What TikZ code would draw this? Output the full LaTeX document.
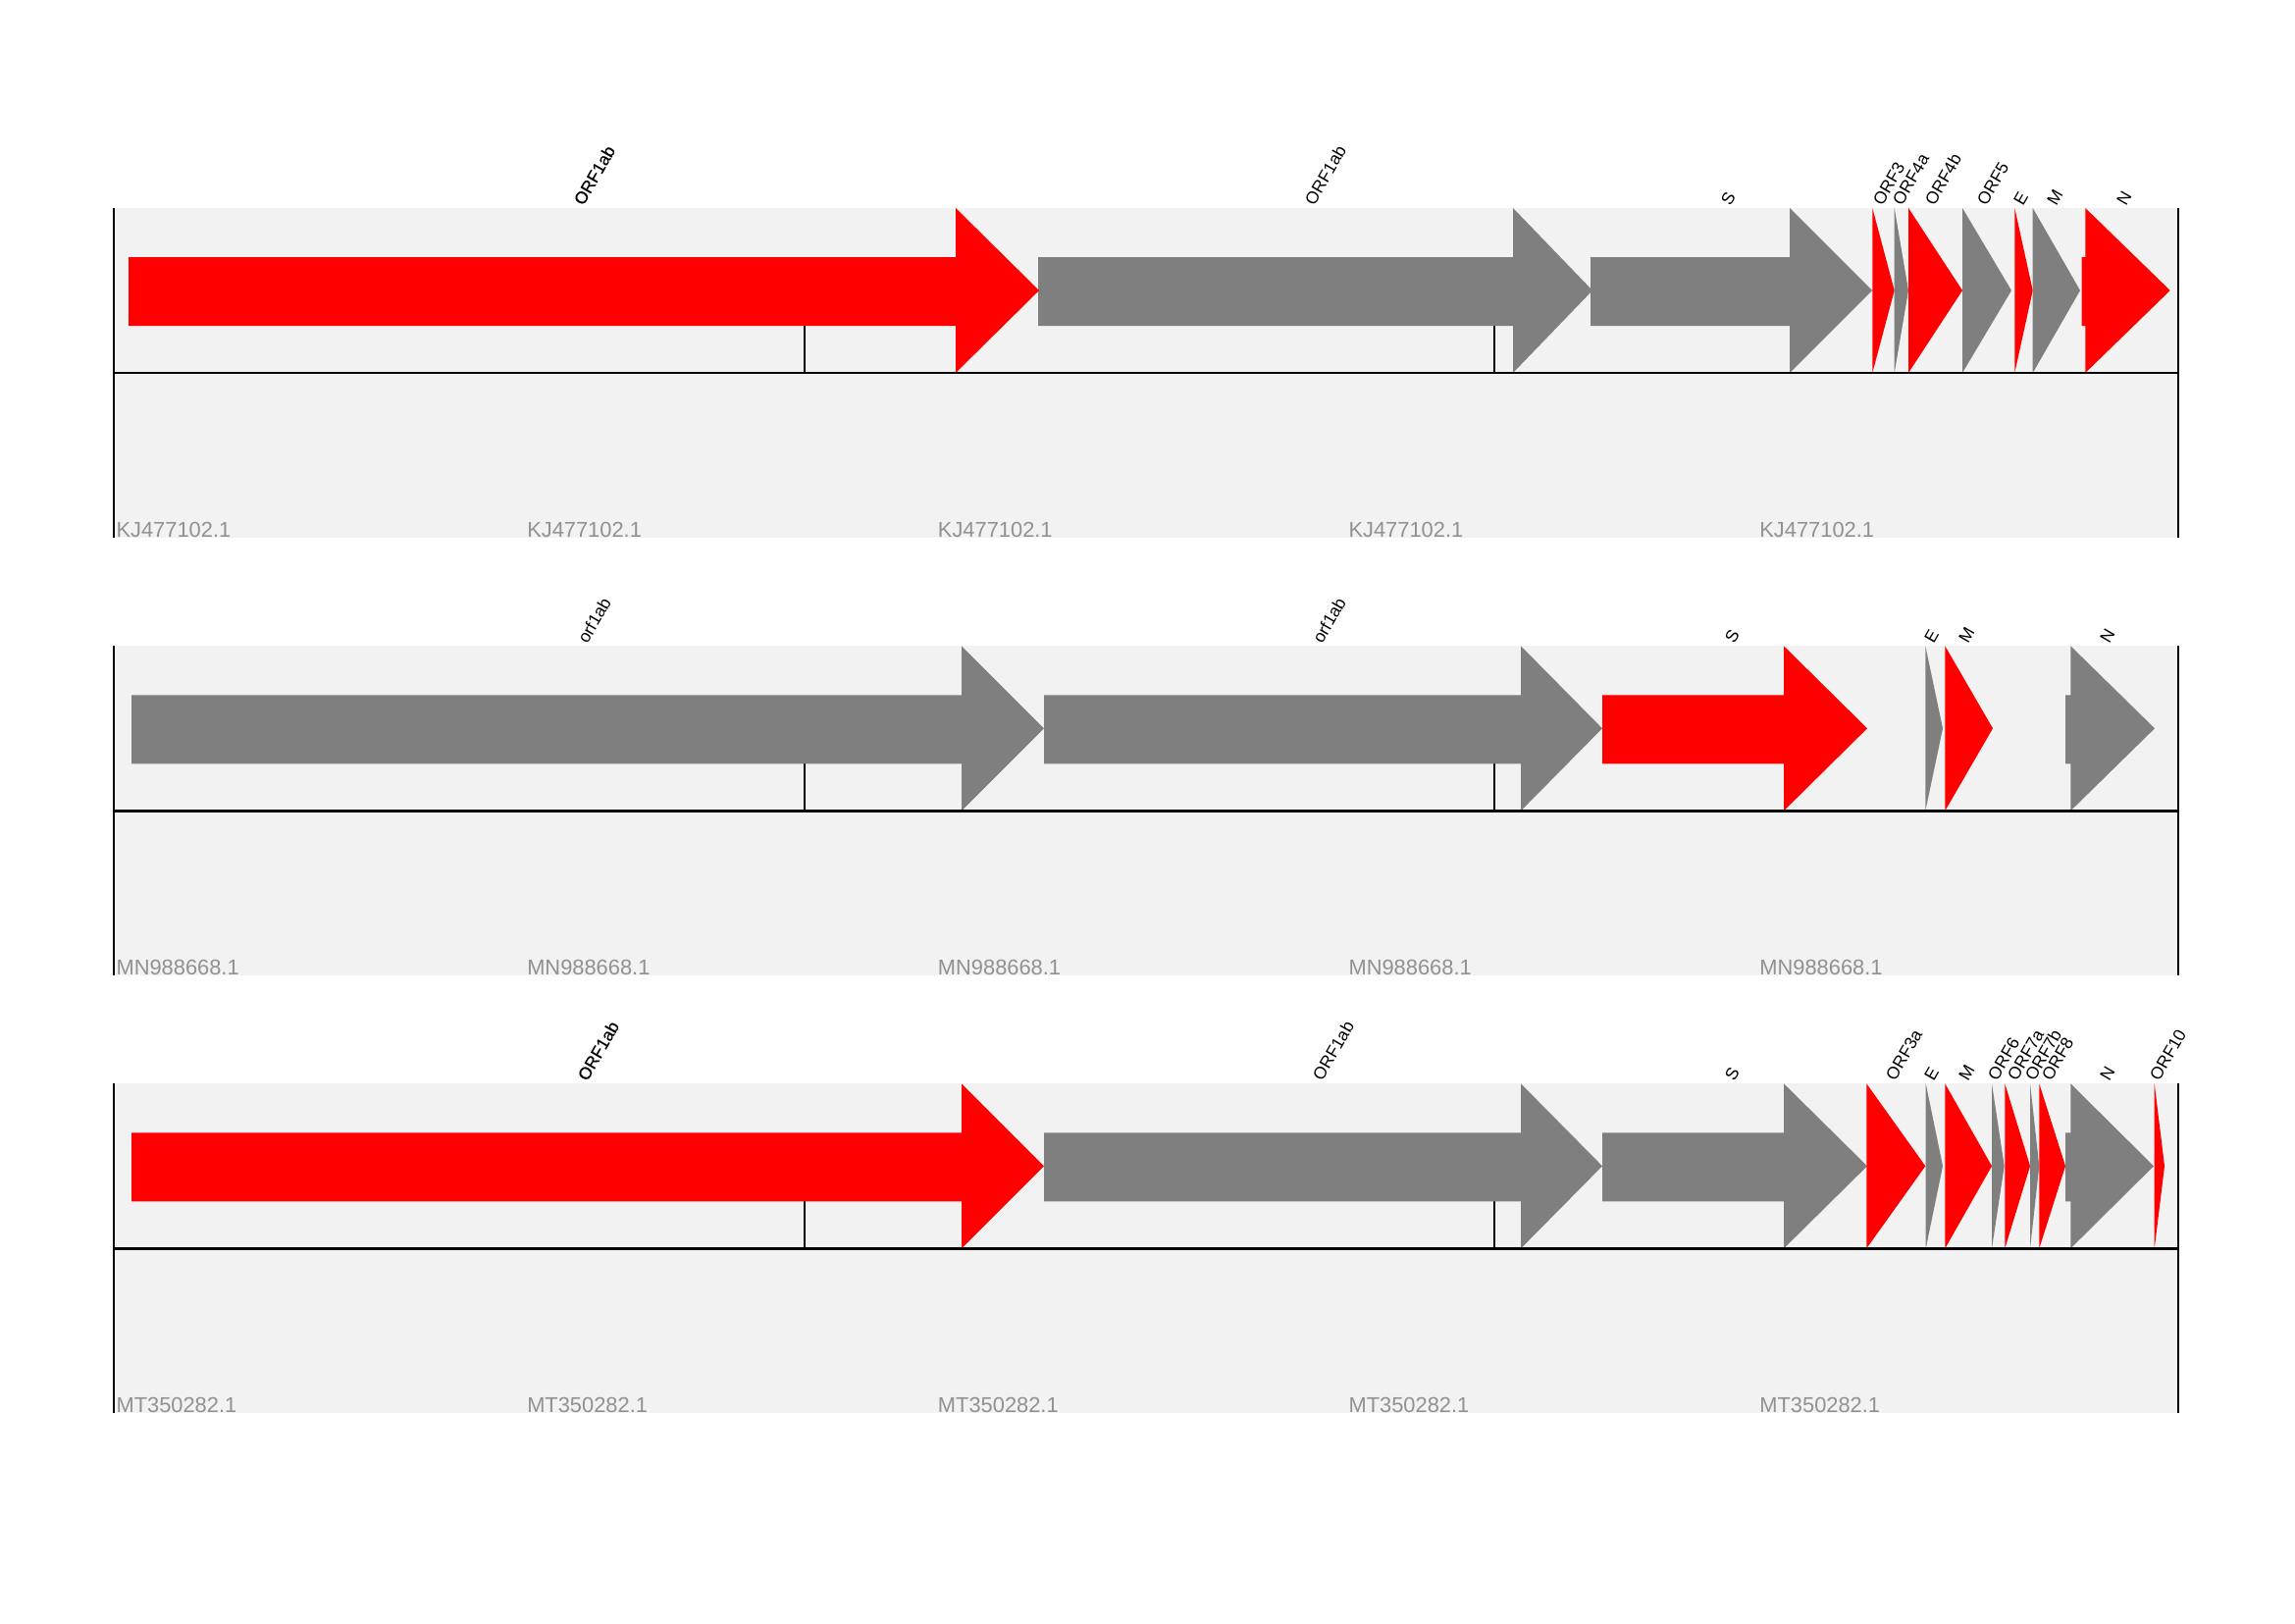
\documentclass[tikz,border=0pt]{standalone}
\usepackage{fontspec}
\newfontfamily\lsans{Liberation Sans}
\newfontfamily\lsansbold[FakeBold=0.4]{Liberation Sans}
\definecolor{bgcol}{HTML}{F2F2F2}
\definecolor{gred}{HTML}{FF0000}
\definecolor{ggray}{HTML}{7F7F7F}
\definecolor{seqcol}{RGB}{145,145,145}
\newcommand\genearr[4]{\fill[#1] (#2,50) -- (#3,50) -- (#3,0) -- (#4,84) -- (#3,168) -- (#3,120) -- (#2,120) -- cycle;}
\newcommand\genetri[3]{\fill[#1] (#2,0) -- (#3,84) -- (#2,168) -- cycle;}
\newcommand\trackbase{%
  \fill[bgcol] (116,0) rectangle (2220,336);
  \draw[axisline] (820,120) -- (820,168);
  \draw[axisline] (1523,120) -- (1523,168);
}
\newcommand\trackframe{%
  \draw[axisline] (116,168) -- (2220,168);
  \draw[axisline] (116,0) -- (116,336);
  \draw[axisline] (2220,0) -- (2220,336);
}
\begin{document}
\begin{tikzpicture}[x=0.127mm,y=-0.127mm,
  axisline/.style={draw=black,line width=1.05pt},
  redgene/.style={fill=gred},
  graygene/.style={fill=ggray},
  glabel/.style={anchor=south west,rotate=60,inner sep=0pt,font=\lsans\fontsize{6.3}{7}\selectfont},
  glabelb/.style={glabel,font=\lsansbold\fontsize{6.3}{7}\selectfont},
  seqlabel/.style={anchor=base west,inner sep=0pt,text=seqcol,font=\lsans\fontsize{7.9}{9}\selectfont}]
\useasboundingbox[fill=white] (0,0) rectangle (2339,1654);

% ---------------- Track 1: KJ477102.1 ----------------
\begin{scope}[shift={(0,212)}]
\trackbase
\genearr{graygene}{1058}{1542}{1623}
\genearr{redgene}{131}{974}{1059}
\genearr{graygene}{1621}{1824}{1908}
\genetri{redgene}{1908.3}{1930.7}
\genetri{graygene}{1930.7}{1945}
\genetri{redgene}{1945}{2000}
\genetri{graygene}{2000}{2050}
\genetri{redgene}{2053.3}{2071.7}
\genetri{graygene}{2071.7}{2120}
\genearr{redgene}{2121.7}{2125.3}{2211.7}
\trackframe
\begin{scope}[shift={(6,0)}]
\node[glabelb] (a1) at (589,-1) {ORF1ab};
\node[glabel] (a2) at (1334,-1) {ORF1ab};
\node[glabel] (a3) at (1758,-1) {S};
\node[glabel] (a4) at (1913,-1) {ORF3};
\node[glabel] (a5) at (1933,-1) {ORF4a};
\node[glabel] (a6) at (1966,-1) {ORF4b};
\node[glabel] (a7) at (2019,-1) {ORF5};
\node[glabel] (a8) at (2056,-1) {E};
\node[glabel] (a9) at (2090,-1) {M};
\node[glabel] (a10) at (2161,-1) {N};
\end{scope}
\node[seqlabel] (s11) at (118,335) {KJ477102.1};
\node[seqlabel] (s12) at (536.7,335) {KJ477102.1};
\node[seqlabel] (s13) at (955.4,335) {KJ477102.1};
\node[seqlabel] (s14) at (1374,335) {KJ477102.1};
\node[seqlabel] (s15) at (1792.8,335) {KJ477102.1};
\end{scope}

% ---------------- Track 2: MN988668.1 ----------------
\begin{scope}[shift={(0,658.3)}]
\trackbase
\genearr{graygene}{1064}{1550}{1633}
\genearr{graygene}{134}{980}{1064}
\genearr{redgene}{1633}{1818}{1903}
\genetri{graygene}{1962.3}{1980}
\genetri{redgene}{1982.3}{2031}
\genearr{graygene}{2105}{2110.3}{2196}
\trackframe
\begin{scope}[shift={(6,0)}]
\node[glabel] (b1) at (593,-1) {orf1ab};
\node[glabel] (b2) at (1342,-1) {orf1ab};
\node[glabel] (b3) at (1762,-1) {S};
\node[glabel] (b4) at (1965,-1) {E};
\node[glabel] (b5) at (2000,-1) {M};
\node[glabel] (b6) at (2144,-1) {N};
\end{scope}
\node[seqlabel] (s21) at (118,335) {MN988668.1};
\node[seqlabel] (s22) at (536.7,335) {MN988668.1};
\node[seqlabel] (s23) at (955.4,335) {MN988668.1};
\node[seqlabel] (s24) at (1374,335) {MN988668.1};
\node[seqlabel] (s25) at (1792.8,335) {MN988668.1};
\end{scope}

% ---------------- Track 3: MT350282.1 ----------------
\begin{scope}[shift={(0,1104.3)}]
\trackbase
\genearr{graygene}{1064}{1550}{1633}
\genearr{redgene}{134}{980}{1064}
\genearr{graygene}{1633}{1818}{1903}
\genetri{redgene}{1902.3}{1962.3}
\genetri{graygene}{1962.7}{1980}
\genetri{redgene}{1982.3}{2030}
\genetri{graygene}{2030}{2042.7}
\genetri{redgene}{2043.3}{2069}
\genetri{graygene}{2069}{2078.3}
\genetri{redgene}{2078.3}{2105}
\genearr{graygene}{2105}{2110.3}{2195}
\genetri{redgene}{2195.7}{2206}
\trackframe
\begin{scope}[shift={(6,0)}]
\node[glabelb] (c1) at (593,-1) {ORF1ab};
\node[glabel] (c2) at (1342,-1) {ORF1ab};
\node[glabel] (c3) at (1762,-1) {S};
\node[glabel] (c4) at (1926,-1) {ORF3a};
\node[glabel] (c5) at (1965,-1) {E};
\node[glabel] (c6) at (2000,-1) {M};
\node[glabel] (c7) at (2030,-1) {ORF6};
\node[glabel] (c8) at (2050,-1) {ORF7a};
\node[glabel] (c9) at (2068,-1) {ORF7b};
\node[glabel] (c10) at (2085,-1) {ORF8};
\node[glabel] (c11) at (2144,-1) {N};
\node[glabel] (c12) at (2195,-1) {ORF10};
\end{scope}
\node[seqlabel] (s31) at (118,335) {MT350282.1};
\node[seqlabel] (s32) at (536.7,335) {MT350282.1};
\node[seqlabel] (s33) at (955.4,335) {MT350282.1};
\node[seqlabel] (s34) at (1374,335) {MT350282.1};
\node[seqlabel] (s35) at (1792.8,335) {MT350282.1};
\end{scope}
\end{tikzpicture}
\end{document}
